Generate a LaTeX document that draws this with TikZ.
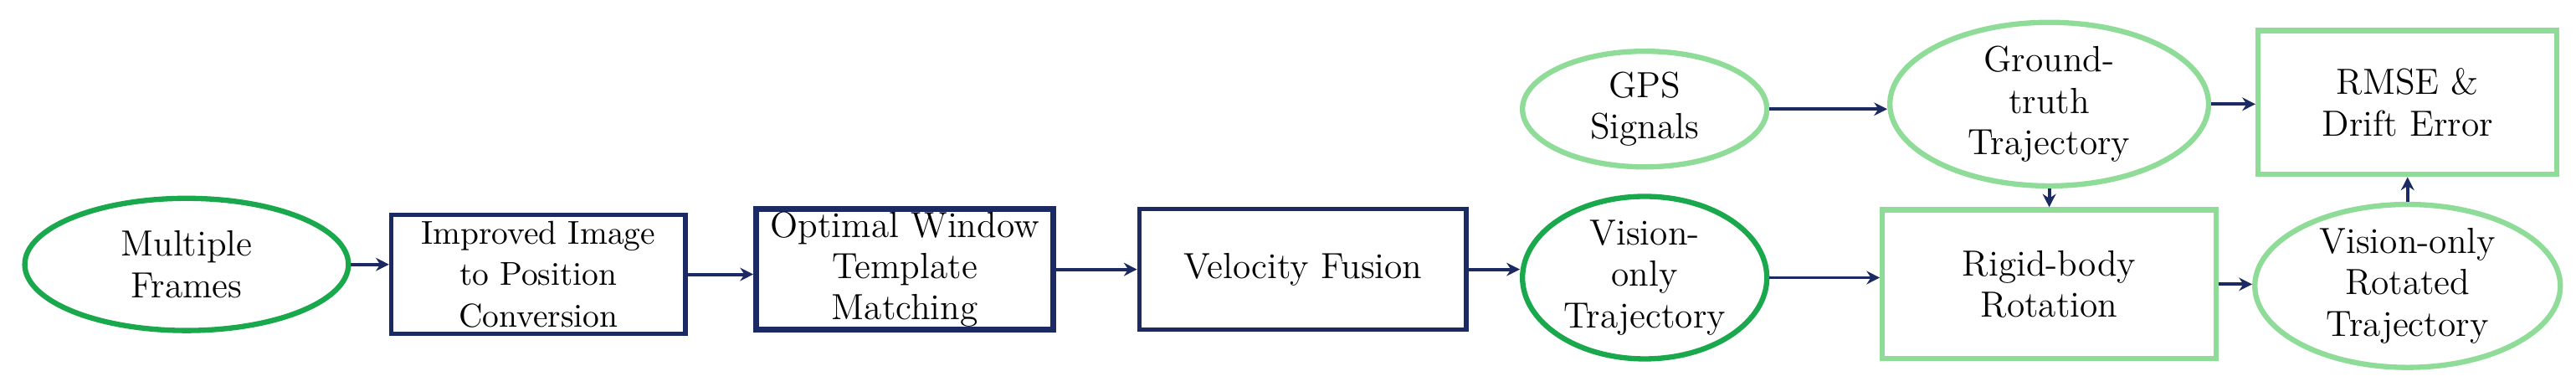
\documentclass[tikz,border=0pt]{standalone}
\usetikzlibrary{shapes.geometric,arrows.meta}
\definecolor{navy}{HTML}{1B2A63}
\definecolor{dgreen}{HTML}{1AA84C}
\definecolor{lgreen}{HTML}{8EDC98}
\begin{document}
\begin{tikzpicture}[x=0.5pt,y=0.5pt,
  every node/.style={font=\fontsize{11}{12.5}\selectfont,align=center,inner sep=0pt},
  ell/.style={ellipse,line width=1.6pt},
  box/.style={rectangle,draw=navy,line width=1.4pt},
  arr/.style={draw=navy,line width=1pt,-{Stealth[length=4pt,width=4pt]}}]
\useasboundingbox (0,0) rectangle (1560,-236.7);
\node[ell,draw=dgreen,minimum width=98pt,minimum height=40pt] (mf) at (113,-160) {Multiple\\Frames};
\node[box,minimum width=89pt,minimum height=36pt] (img) at (326,-166) {\fontsize{10}{12.5}\selectfont Improved Image\\\fontsize{10}{12.5}\selectfont to Position\\\fontsize{10}{12.5}\selectfont Conversion};
\node[box,line width=1.8pt,minimum width=90pt,minimum height=36.5pt] (opt) at (548,-163) {Optimal Window\\Template\\Matching};
\node[box,minimum width=99pt,minimum height=36.5pt] (vf) at (789,-163) {Velocity Fusion};
\node[ell,draw=dgreen,minimum width=74pt,minimum height=46.5pt] (vo) at (996,-168) {Vision-\\only\\Trajectory};
\node[rectangle,draw=lgreen,line width=1.6pt,minimum width=101pt,minimum height=45pt] (rb) at (1241,-172) {Rigid-body\\Rotation};
\node[ell,draw=lgreen,minimum width=92.5pt,minimum height=45pt] (vr) at (1458,-173) {Vision-only\\Rotated\\Trajectory};
\node[ell,draw=lgreen,minimum width=74pt,minimum height=35pt] (gps) at (996,-66) {GPS\\Signals};
\node[ell,draw=lgreen,minimum width=96.5pt,minimum height=41.5pt] (gt) at (1241,-63) {Ground-\\truth\\Trajectory};
\node[rectangle,draw=lgreen,line width=1.6pt,minimum width=90.5pt,minimum height=43.5pt] (rm) at (1458,-62) {RMSE \&\\Drift Error};
\draw[arr] (mf.east) -- (mf.east -| img.west);
\draw[arr] (img.east) -- (img.east -| opt.west);
\draw[arr] (opt.east) -- (opt.east -| vf.west);
\draw[arr] (vf.east) -- (vf.east -| vo.west);
\draw[arr] (vo.east) -- (vo.east -| rb.west);
\draw[arr] (rb.east) -- (rb.east -| vr.west);
\draw[arr] (gps.east) -- (gps.east -| gt.west);
\draw[arr] (gt.east) -- (gt.east -| rm.west);
\draw[arr] (gt) -- (rb);
\draw[arr] (vr) -- (rm);
\end{tikzpicture}
\end{document}
